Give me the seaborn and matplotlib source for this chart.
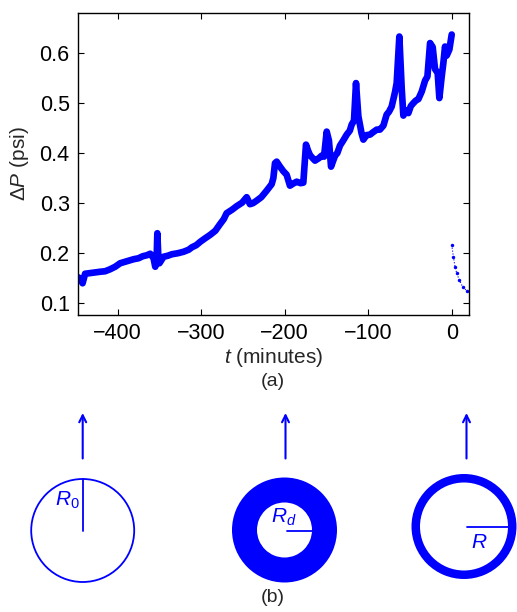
import numpy as np
import pandas as pd
import matplotlib
matplotlib.use("Agg")
import matplotlib.pyplot as plt
from matplotlib.patches import Circle, Wedge, FancyArrowPatch
import seaborn as sns

# ---- data ----
t_min = [-447.5, -445, -442, -439, -430, -421, -415, -409, -403, -397, -389, -381,
         -375, -370, -365, -361, -357, -355, -353.5, -352.5, -351.5, -350, -345,
         -340, -335, -328, -321, -315, -311, -306, -301, -296, -289, -283, -277.5,
         -273, -269.5, -263, -257.5, -251, -245.5, -241.6, -238, -233.6, -228,
         -221.6, -215.6, -213.6, -211.6, -209.6, -205.6, -201.7, -197.7, -193.7,
         -189, -185.6, -181, -177.7, -174.5, -172, -169.7, -166, -163.7, -159,
         -155.7, -152.9, -149.7, -147, -144.5, -139.7, -137, -133.8, -130, -125.7,
         -122, -119.8, -117, -114.6, -111.8, -108, -105.8, -102, -97.8, -94, -89.8,
         -86, -81.8, -77.9, -75, -71.9, -67.9, -65.9, -62.7, -59.9, -57.9, -55,
         -51.9, -49, -45.9, -43, -39.9, -35.9, -31.9, -29.1, -25.9, -22.8, -20,
         -16.8, -14.8, -12, -10, -8, -6, -2.8, 0]
dP_psi = [0.152, 0.150, 0.140, 0.159, 0.161, 0.163, 0.164, 0.168, 0.173, 0.180, 0.184, 0.188,
          0.190, 0.194, 0.196, 0.199, 0.190, 0.173, 0.180, 0.240, 0.200, 0.180, 0.193,
          0.195, 0.198, 0.200, 0.203, 0.207, 0.212, 0.216, 0.223, 0.229, 0.237, 0.245, 0.258,
          0.268, 0.280, 0.287, 0.294, 0.301, 0.312, 0.298, 0.300, 0.305, 0.312,
          0.325, 0.338, 0.350, 0.380, 0.383, 0.373, 0.364, 0.357, 0.335,
          0.340, 0.343, 0.340, 0.341, 0.417, 0.405, 0.396, 0.389, 0.385, 0.390,
          0.395, 0.393, 0.443, 0.425, 0.373, 0.395, 0.400, 0.415, 0.425, 0.437,
          0.445, 0.457, 0.465, 0.540, 0.474, 0.440, 0.427, 0.436, 0.437, 0.442, 0.447,
          0.447, 0.455, 0.477, 0.483, 0.493, 0.522, 0.540, 0.633, 0.530, 0.475, 0.485,
          0.480, 0.494, 0.500, 0.505, 0.508, 0.523, 0.545, 0.553, 0.620, 0.612, 0.568,
          0.560, 0.510, 0.553, 0.580, 0.613, 0.595, 0.607, 0.637]

t_recovery = [0, 2, 4, 6, 9, 13, 18]
dP_recovery = [0.217, 0.193, 0.173, 0.160, 0.147, 0.133, 0.125]

x_ticks = [-400, -300, -200, -100, 0]
x_tick_labels = ["\u2212400", "\u2212300", "\u2212200", "\u2212100", "0"]
y_ticks = [0.1, 0.2, 0.3, 0.4, 0.5, 0.6]

blue = "#0000ff"

sns.set_style("ticks")
plt.rcParams["font.family"] = ["Liberation Sans", "DejaVu Sans"]
plt.rcParams["mathtext.fontset"] = "custom"
plt.rcParams["mathtext.it"] = "Liberation Sans:italic"
plt.rcParams["mathtext.rm"] = "Liberation Sans"

W, H = 517, 612
fig = plt.figure(figsize=(W / 100, H / 100), dpi=100)

# ---- lower schematic panel (pixel coordinates) ----
axb = fig.add_axes([0, 0, 1, 1])
axb.set_xlim(0, W)
axb.set_ylim(H, 0)
axb.axis("off")
axb.patch.set_alpha(0)

# circle 1
axb.add_patch(Circle((82.7, 530.5), 51.5, fill=False, ec=blue, lw=1.3))
axb.plot([82.7, 82.7], [479, 530.5], color=blue, lw=1.3)
axb.text(67, 500, r"$R_0$", color=blue, fontsize=15, ha="center", va="center")
# circle 2 (thick annulus)
axb.add_patch(Wedge((284.5, 530), 52.5, 0, 360, width=25, color=blue, lw=0))
axb.plot([287, 312], [531, 531], color=blue, lw=1.3)
axb.text(284, 517, r"$R_d$", color=blue, fontsize=15, ha="center", va="center")
# circle 3 (ring)
axb.add_patch(Wedge((464, 526.5), 52.5, 0, 360, width=8.5, color=blue, lw=0))
axb.plot([467, 512], [526.5, 526.5], color=blue, lw=1.3)
axb.text(479, 542, r"$R$", color=blue, fontsize=15, ha="center", va="center")
# arrows
for xa in [82.7, 285.5, 466.5]:
    axb.add_patch(FancyArrowPatch((xa, 458.5), (xa, 413), arrowstyle="->,head_length=5,head_width=2.5",
                                  color=blue, lw=1.5, mutation_scale=1, shrinkA=0, shrinkB=0))
axb.text(273, 597, "(b)", fontsize=14, ha="center", va="center")
axb.text(273, 381, "(a)", fontsize=14, ha="center", va="center")

# ---- main plot ----
ax = fig.add_axes([78 / W, 1 - 315 / H, 391 / W, 302 / H])
df = pd.DataFrame({"t": t_min, "dP": dP_psi})
sns.lineplot(data=df, x="t", y="dP", sort=False, estimator=None, color=blue,
             lw=4.8, solid_joinstyle="round", solid_capstyle="round", ax=ax)
dfr = pd.DataFrame({"t": t_recovery, "dP": dP_recovery})
sns.lineplot(data=dfr, x="t", y="dP", sort=False, estimator=None, color=blue,
             lw=0.8, ls=":", marker="o", markersize=2.5, mew=0, ax=ax)

ax.set_xlim(-447.5, 20.7)
ax.set_ylim(0.0766, 0.68)
ax.set_xticks(x_ticks)
ax.set_xticklabels(x_tick_labels)
ax.set_yticks(y_ticks)
ax.set_yticklabels([f"{v:.1f}" for v in y_ticks])
ax.tick_params(direction="in", top=True, right=True, length=4, width=0.8,
               labelsize=15.5, colors="black", pad=6)
for s in ax.spines.values():
    s.set_visible(True)
    s.set_linewidth(1.0)
    s.set_color("black")
ax.set_xlabel(r"$t$ (minutes)", fontsize=15, labelpad=1)
ax.set_ylabel(r"$\Delta P$ (psi)", fontsize=15, labelpad=6)

fig.savefig("out.png", dpi=100)
